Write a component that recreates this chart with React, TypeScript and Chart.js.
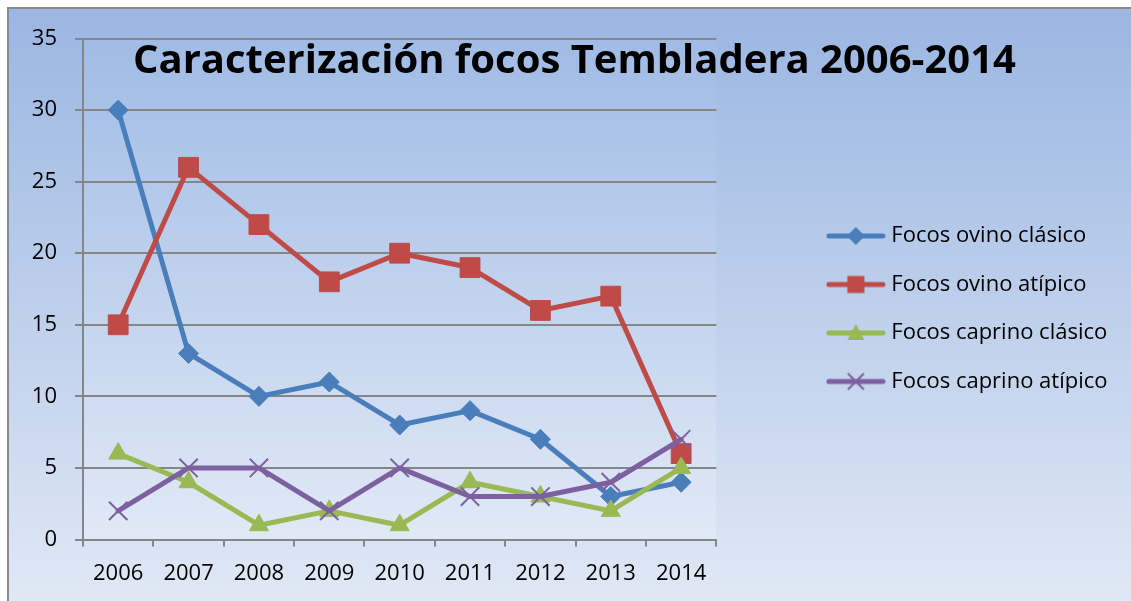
import React, { useEffect, useRef } from 'react';
import { Chart, registerables } from 'chart.js';

Chart.register(...registerables);

const years = ['2006', '2007', '2008', '2009', '2010', '2011', '2012', '2013', '2014'];
const ovinoClasico = [30, 13, 10, 11, 8, 9, 7, 3, 4];
const ovinoAtipico = [15, 26, 22, 18, 20, 19, 16, 17, 6];
const caprinoClasico = [6, 4, 1, 2, 1, 4, 3, 2, 5];
const caprinoAtipico = [2, 5, 5, 2, 5, 3, 3, 4, 7];
const seriesLabels = ['Focos ovino clásico', 'Focos ovino atípico', 'Focos caprino clásico', 'Focos caprino atípico'];
const yTickValues = [0, 5, 10, 15, 20, 25, 30, 35];
const chartTitle = 'Caracterización focos Tembladera 2006-2014';

const FONT = '"Open Sans", "Noto Sans", sans-serif';
const colors = ['#4a7ebb', '#be4b48', '#98b954', '#7d60a0'];
const GRID = '#868686';

function makeLegendIcon(color: string, kind: string): HTMLCanvasElement {
  const c = document.createElement('canvas');
  c.width = 60;
  c.height = 24;
  const ctx = c.getContext('2d')!;
  const cx = 30, cy = 12;
  ctx.strokeStyle = color;
  ctx.fillStyle = color;
  ctx.lineCap = 'round';
  ctx.lineWidth = 5;
  ctx.beginPath();
  ctx.moveTo(3, cy);
  ctx.lineTo(57, cy);
  ctx.stroke();
  ctx.beginPath();
  if (kind === 'diamond') {
    const r = 9;
    ctx.moveTo(cx, cy - r);
    ctx.lineTo(cx + r, cy);
    ctx.lineTo(cx, cy + r);
    ctx.lineTo(cx - r, cy);
    ctx.closePath();
    ctx.fill();
  } else if (kind === 'square') {
    ctx.fillRect(cx - 8.5, cy - 8.5, 17, 17);
  } else if (kind === 'triangle') {
    ctx.moveTo(cx, cy - 9);
    ctx.lineTo(cx + 8.5, cy + 7);
    ctx.lineTo(cx - 8.5, cy + 7);
    ctx.closePath();
    ctx.fill();
  } else {
    ctx.lineWidth = 2;
    ctx.lineCap = 'butt';
    ctx.moveTo(cx - 8, cy - 8);
    ctx.lineTo(cx + 8, cy + 8);
    ctx.moveTo(cx + 8, cy - 8);
    ctx.lineTo(cx - 8, cy + 8);
    ctx.stroke();
  }
  return c;
}

const backgroundPlugin = {
  id: 'bgPlugin',
  beforeDraw(chart: any) {
    const { ctx, width, height, chartArea } = chart;
    ctx.save();
    const g = ctx.createLinearGradient(0, 0, 0, height);
    g.addColorStop(0, '#9ab6e2');
    g.addColorStop(1, '#e0e8f5');
    ctx.fillStyle = g;
    ctx.fillRect(0, 0, width, height);
    const pg = ctx.createLinearGradient(0, chartArea.top, 0, chartArea.bottom);
    pg.addColorStop(0, '#a0bbe5');
    pg.addColorStop(1, '#e1e9f6');
    ctx.fillStyle = pg;
    ctx.fillRect(chartArea.left, chartArea.top, chartArea.right - chartArea.left, chartArea.bottom - chartArea.top);
    ctx.strokeStyle = '#8a8a8a';
    ctx.lineWidth = 2;
    ctx.beginPath();
    ctx.moveTo(1, height);
    ctx.lineTo(1, 1);
    ctx.lineTo(width, 1);
    ctx.stroke();
    ctx.restore();
  },
};

const titlePlugin = {
  id: 'overlayTitle',
  afterDraw(chart: any) {
    const { ctx } = chart;
    ctx.save();
    ctx.font = `bold 40px ${FONT}`;
    ctx.fillStyle = '#000';
    ctx.textAlign = 'center';
    ctx.textBaseline = 'alphabetic';
    ctx.fillText(chartTitle, 567.5, 66);
    ctx.restore();
  },
};

export default function App() {
  const ref = useRef<HTMLCanvasElement>(null);

  useEffect(() => {
    const kinds = ['diamond', 'square', 'triangle', 'cross'];
    const icons = colors.map((c, i) => makeLegendIcon(c, kinds[i]));
    const seriesData = [ovinoClasico, ovinoAtipico, caprinoClasico, caprinoAtipico];
    const pointStyles = ['rectRot', 'rect', 'triangle', 'crossRot'];
    const pointRadii = [10, 14, 11, 13];

    const datasets = seriesData.map((d, i) => ({
      label: seriesLabels[i],
      data: d,
      borderColor: colors[i],
      backgroundColor: colors[i],
      borderWidth: 5,
      borderJoinStyle: 'round' as const,
      borderCapStyle: 'round' as const,
      pointStyle: pointStyles[i],
      pointRadius: pointRadii[i],
      pointBackgroundColor: colors[i],
      pointBorderColor: colors[i],
      pointBorderWidth: i === 3 ? 2 : 1,
      tension: 0,
      order: 4 - i,
    }));

    const chart = new Chart(ref.current!, {
      type: 'line',
      data: { labels: years, datasets },
      options: {
        responsive: false,
        animation: false,
        devicePixelRatio: 1,
        font: { family: FONT },
        layout: { padding: { top: 31.5, left: 0, right: 13.5, bottom: 0 } },
        plugins: {
          title: { display: false },
          tooltip: { enabled: false },
          legend: {
            position: 'right',
            align: 'start',
            fullSize: true,
            maxWidth: 500,
            title: { display: true, text: '', font: { size: 12 }, padding: { top: 72.8, bottom: 72.8 } },
            labels: {
              usePointStyle: true,
              pointStyleWidth: 49,
              padding: 26.5,
              color: '#000',
              font: { size: 22, family: FONT },
              sort: (a: any, b: any) => a.datasetIndex - b.datasetIndex,
              generateLabels: (ch: any) => {
                const items = Chart.defaults.plugins.legend.labels.generateLabels(ch);
                return items.map((it: any) => ({ ...it, pointStyle: icons[it.datasetIndex] }));
              },
            },
          },
        },
        scales: {
          x: {
            type: 'category',
            offset: true,
            grid: { offset: true, drawOnChartArea: false, drawTicks: true, tickLength: 7, color: GRID, lineWidth: 2 },
            border: { display: true, color: GRID, width: 2 },
            ticks: { color: '#000', font: { size: 22, family: FONT }, padding: 14, maxRotation: 0, autoSkip: false },
            afterFit: (s: any) => { s.height = 61.5; },
          },
          y: {
            type: 'linear',
            min: 0,
            max: 35,
            afterBuildTicks: (s: any) => { s.ticks = yTickValues.map((v) => ({ value: v })); },
            ticks: { color: '#000', font: { size: 22, family: FONT }, padding: 18 },
            grid: { color: GRID, lineWidth: 2, tickLength: 8, drawTicks: true },
            border: { display: true, color: GRID, width: 2 },
            afterFit: (s: any) => { s.width = 76; },
          },
          yRight: {
            type: 'linear',
            position: 'right',
            display: true,
            grid: { display: false, drawTicks: false },
            border: { display: false },
            ticks: { display: false },
            afterFit: (s: any) => { s.width = 88.5; },
          },
        },
      },
      plugins: [backgroundPlugin, titlePlugin],
    } as any);
    return () => chart.destroy();
  }, []);

  return (
    <div style={{ position: 'absolute', left: 7, top: 7, width: 1124, height: 594 }}>
      <canvas ref={ref} width={1124} height={594} style={{ display: 'block' }} />
    </div>
  );
}
